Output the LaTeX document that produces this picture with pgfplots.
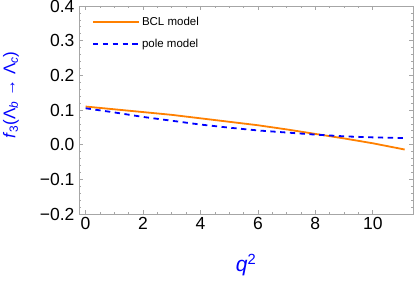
\documentclass[border=0pt]{standalone}
\usepackage{fontspec}
\setmainfont{Liberation Sans}
\usepackage{pgfplots}
\pgfplotsset{compat=1.18}
\definecolor{mmaorange}{rgb}{1,0.5,0}
\definecolor{framegray}{gray}{0.65}
\pgfplotsset{longleg/.style={legend image code/.code={\draw[##1] (0pt,0pt) -- (46pt,0pt);}}}
\begin{document}
\begin{tikzpicture}
\begin{axis}[
  scale only axis,
  width=334pt, height=208pt,
  at={(0,0)}, anchor=south west,
  xmin=-0.23, xmax=11.4,
  ymin=-0.2, ymax=0.4,
  axis line style={framegray, line width=0.8pt},
  tick style={framegray, line width=0.6pt},
  major tick length=4pt, minor tick length=2pt,
  xtick={0,2,4,6,8,10},
  minor x tick num=3,
  ytick={-0.2,-0.1,0,0.1,0.2,0.3,0.4},
  yticklabels={−0.2,−0.1,0.0,0.1,0.2,0.3,0.4},
  minor y tick num=4,
  tick align=inside,
  /pgf/number format/assume math mode=true,
  tick label style={font=\fontsize{17.5}{20}\selectfont, text=black},
  xticklabel style={yshift=0pt},
  yticklabel style={xshift=-1pt},
  xlabel={\textit{q}\textsuperscript{2}},
  xlabel style={font=\fontsize{21}{24}\selectfont, text=blue, at={(axis description cs:0.5,-0.245)}, anchor=center},
  ylabel={\textit{f}\textsubscript{3}(Λ\textsubscript{\textit{b}} → Λ\textsubscript{\textit{c}})},
  ylabel style={font=\fontsize{17}{20}\selectfont, text=blue, at={(axis description cs:-0.204,0.572)}, anchor=center},
  legend style={draw=none, fill=none, at={(axis description cs:0.039,0.957)}, anchor=north west,
    font=\fontsize{11.5}{13}\selectfont, row sep=8pt, inner xsep=0pt, inner ysep=0pt},
  legend cell align=left,
]
\addplot[mmaorange, line width=1.8pt, longleg] coordinates {
(0,0.110) (1,0.102) (2,0.094) (3,0.086) (4,0.076) (5,0.066) (6,0.056)
(7,0.044) (8,0.031) (9,0.018) (10,0.004) (11.11,-0.014)};
\addlegendentry{BCL model}
\addplot[blue, line width=1.8pt, dash pattern=on 5.3pt off 4.5pt, longleg] coordinates {
(0,0.105) (1,0.093) (2,0.080) (3,0.069) (4,0.058) (5,0.049) (6,0.041)
(7,0.035) (8,0.029) (9,0.024) (10,0.021) (11.11,0.019)};
\addlegendentry{pole model}
\end{axis}
\pgfresetboundingbox
\path[use as bounding box] (-79pt,-69pt) rectangle (336pt,214pt);
\end{tikzpicture}
\end{document}
